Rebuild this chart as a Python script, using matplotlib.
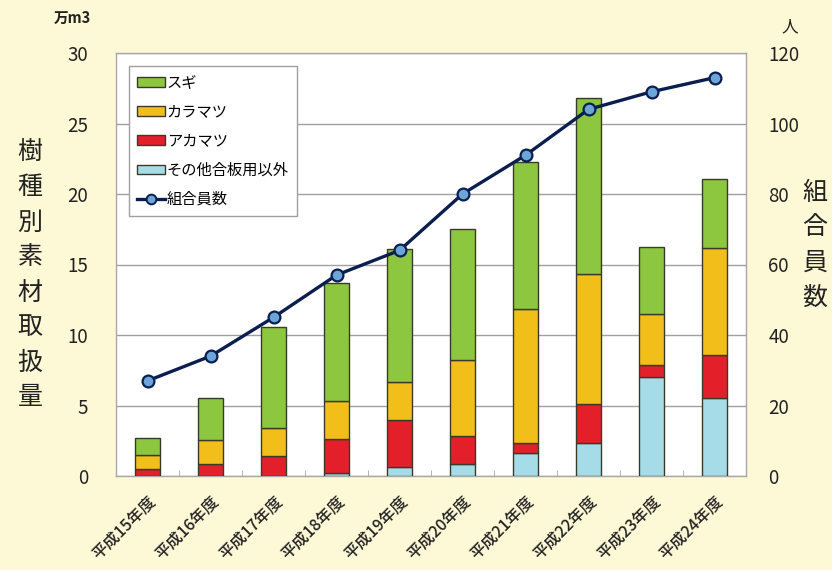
import matplotlib
matplotlib.use("Agg")
import matplotlib.pyplot as plt
from matplotlib.patches import Patch
from matplotlib.lines import Line2D
import numpy as np

plt.rcParams['font.family'] = ['Noto Sans CJK JP', 'DejaVu Sans']

categories = ['平成15年度', '平成16年度', '平成17年度', '平成18年度', '平成19年度',
              '平成20年度', '平成21年度', '平成22年度', '平成23年度', '平成24年度']
other = [0.0, 0.0, 0.0, 0.2, 0.65, 0.85, 1.6, 2.35, 7.0, 5.5]
akamatsu = [0.5, 0.85, 1.4, 2.4, 3.35, 2.0, 0.75, 2.75, 0.9, 3.1]
karamatsu = [1.0, 1.7, 2.0, 2.7, 2.7, 5.35, 9.5, 9.25, 3.6, 7.55]
sugi = [1.2, 3.0, 7.2, 8.4, 9.4, 9.35, 10.4, 12.45, 4.75, 4.9]
members = [27, 34, 45, 57, 64, 80, 91, 104, 109, 113]

c_sugi = '#8DC63F'
c_kara = '#F2BE1A'
c_aka = '#E3202A'
c_other = '#A6DCE8'
c_line = '#0B1E50'
c_marker = '#6CA6D9'
edge = '#3A3A2A'
bg = '#FDF8D6'

fig = plt.figure(figsize=(8.32, 5.70), dpi=100, facecolor=bg)
ax = fig.add_axes([116/832, 1-476/570, 630/832, 423/570])
ax.set_facecolor('white')

x = np.arange(len(categories))
w = 0.4
b0 = np.zeros(len(x))
for vals, col in [(other, c_other), (akamatsu, c_aka), (karamatsu, c_kara), (sugi, c_sugi)]:
    v = np.array(vals)
    ax.bar(x, v, w, bottom=b0, color=col, edgecolor=edge, linewidth=1.0, zorder=3)
    b0 = b0 + v

ax.set_xlim(-0.5, len(x) - 0.5)
ax.set_ylim(0, 30)
ax.set_yticks(range(0, 31, 5))
ax.yaxis.grid(True, color='#A0A0A0', linewidth=1.0, zorder=0)
ax.set_axisbelow(True)
for s in ax.spines.values():
    s.set_color('#A8A8A8')
    s.set_linewidth(1.0)
ax.tick_params(axis='y', length=0, pad=20, labelsize=13.5, colors='#222222')
ax.set_xticks(x)
ax.set_xticklabels(categories, rotation=45, ha='right', va='top', rotation_mode='anchor',
                   fontsize=11.5, fontweight='medium', color='#222222')
ax.tick_params(axis='x', length=0, pad=12)
ax.set_xticks(np.arange(-0.5, len(x), 1.0), minor=True)
ax.tick_params(axis='x', which='minor', length=4, direction='in', color='#A8A8A8')

ax2 = ax.twinx()
ax2.set_ylim(0, 120)
ax2.set_yticks(range(0, 121, 20))
ax2.plot(x, members, color=c_line, linewidth=2.4, marker='o', markersize=8.5,
         markerfacecolor=c_marker, markeredgecolor=c_line, markeredgewidth=1.6, zorder=5)
for s in ax2.spines.values():
    s.set_visible(False)
ax2.tick_params(axis='y', length=0, pad=16, labelsize=13.5, colors='#222222')

handles = [Patch(facecolor=c_sugi, edgecolor=edge), Patch(facecolor=c_kara, edgecolor=edge),
           Patch(facecolor=c_aka, edgecolor=edge), Patch(facecolor=c_other, edgecolor=edge),
           Line2D([0], [0], color=c_line, linewidth=2.4, marker='o', markersize=7,
                  markerfacecolor=c_marker, markeredgecolor=c_line, markeredgewidth=1.4)]
labels = ['スギ', 'カラマツ', 'アカマツ', 'その他合板用以外', '組合員数']
leg = ax2.legend(handles, labels, loc='upper left', bbox_to_anchor=(0.02, 0.97),
                 borderaxespad=0, fancybox=False, edgecolor='#A0A0A0', framealpha=1,
                 fontsize=11, labelspacing=0.8, handlelength=1.8, handleheight=0.6,
                 handletextpad=0.15, borderpad=0.55)
leg.get_frame().set_linewidth(1.0)

fig.text(30/832, 1-275/570, '\n'.join('樹種別素材取扱量'), ha='center', va='center',
         fontsize=18, linespacing=1.45, color='#222222')
fig.text(815/832, 1-245/570, '\n'.join('組合員数'), ha='center', va='center',
         fontsize=18, linespacing=1.45, color='#222222')
fig.text(72/832, 1-18/570, '万m3', ha='center', va='center', fontsize=10.5, fontweight='bold',
         color='#222222')
fig.text(790/832, 1-27/570, '人', ha='center', va='center', fontsize=12, color='#222222')

fig.savefig('out.png', dpi=100, facecolor=bg)
